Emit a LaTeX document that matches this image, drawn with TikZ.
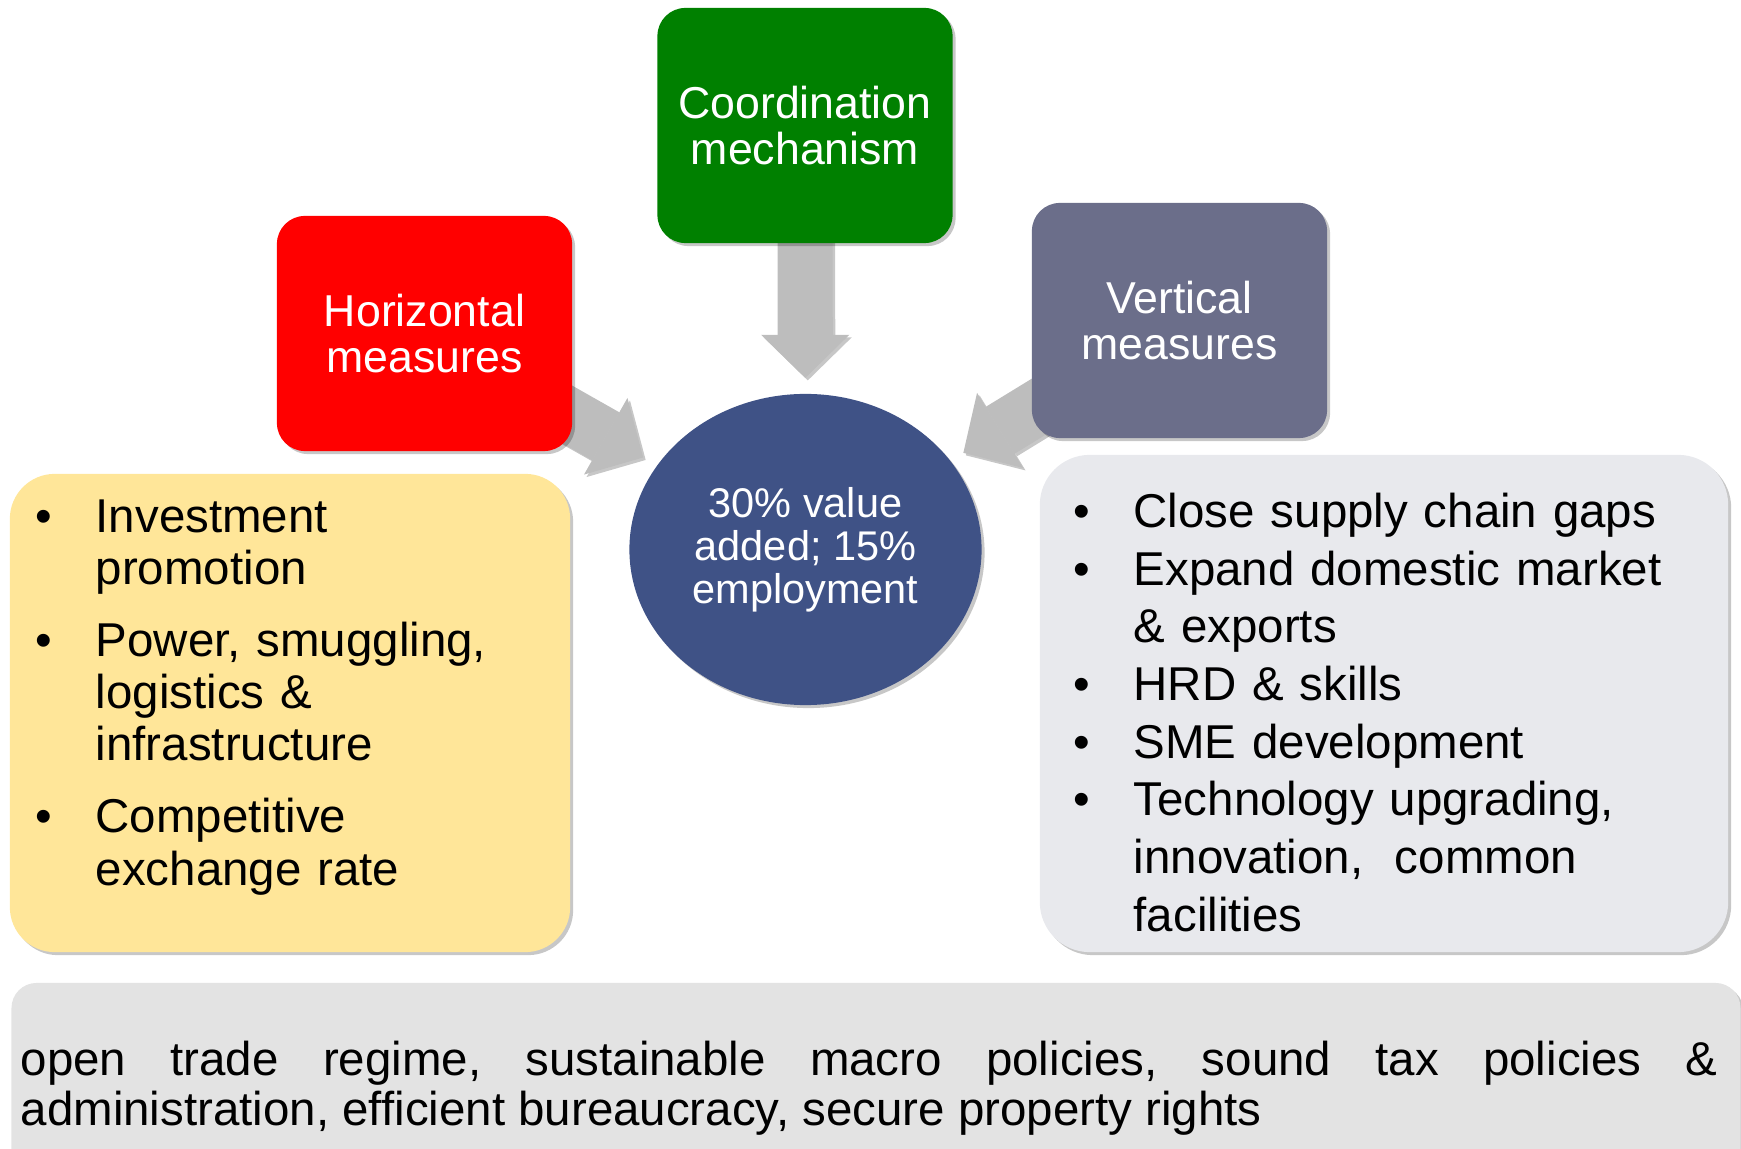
\documentclass[tikz,border=0pt]{standalone}
\usepackage{fontspec}
\setmainfont{Liberation Sans}
\usetikzlibrary{arrows.meta,shapes.geometric,shadows,backgrounds}

\definecolor{coordgreen}{RGB}{0,128,0}
\definecolor{horizred}{RGB}{255,0,0}
\definecolor{vertslate}{RGB}{107,110,138}
\definecolor{coreblue}{RGB}{63,82,134}
\definecolor{listyellow}{RGB}{255,230,153}
\definecolor{listgrey}{RGB}{232,233,237}
\definecolor{basegrey}{RGB}{227,227,227}
\definecolor{arrowgrey}{RGB}{189,189,189}

\hyphenpenalty=10000
\exhyphenpenalty=10000
\tolerance=10000

\newlength{\bulletind}
\setlength{\bulletind}{0.6cm}
\def\pitem#1{\par\hangindent=\bulletind\hangafter=1\noindent\makebox[\bulletind][l]{\textbullet}#1}
\def\pgap{\par\vspace{0.2cm}}
\def\widespaces{\frenchspacing\spaceskip=0.278em plus 1em\relax}

\tikzset{
	softshadow/.style={drop shadow={shadow xshift=0.03cm, shadow yshift=-0.03cm, fill=black, opacity=0.22}},
	titlebox/.style={rectangle, rounded corners=0.28cm, minimum width=2.95cm, minimum height=2.35cm, inner sep=0pt, text=white, align=center, font=\fontsize{12.7}{13.1}\selectfont, softshadow},
	core/.style={ellipse, fill=coreblue, minimum width=3.52cm, minimum height=3.11cm, inner sep=0pt, text=white, align=center, font=\fontsize{11.8}{12.2}\selectfont, softshadow},
	listbox/.style={rectangle, rounded corners=0.45cm, inner sep=0pt, softshadow},
	listtext/.style={anchor=north west, inner sep=0pt, align=left, font=\fontsize{13.5}{14.8}\selectfont},
	blockarrow/.style={draw=arrowgrey, line width=0.55cm, -{Triangle[length=0.43cm, width=0.88cm, line width=0pt]}},
	arrowshade/.style={blockarrow, draw=black!22, transform canvas={xshift=0.025cm, yshift=-0.025cm}}
}

\begin{document}
\begin{tikzpicture}[x=0.01cm, y=-0.01cm]
		%%%%% START %%%%%
		\useasboundingbox (0,0) rectangle (1741,1149);
		
		\node[titlebox, fill=coordgreen] (coord) at (805,125.5) {Coordination\\mechanism};
		\node[titlebox, fill=horizred] (horiz) at (424.5,333.5) {Horizontal\\measures};
		\node[titlebox, fill=vertslate] (vert) at (1179.5,320.5) {Vertical\\measures};
		
		\node[core] (core) at (805.5,549.5) {30\% value\\added; 15\%\\employment};
		
		\node[listbox, fill=listyellow, minimum width=5.6cm, minimum height=4.78cm] (hbox) at (290,713) {};
		\node[listtext, text width=4.8cm] (hlist) at (35,480) {\pitem{Investment promotion}\pgap
			\pitem{Power, smuggling, logistics \& infrastructure}\pgap
			\pitem{Competitive exchange rate}\par};
		
		\node[listbox, rounded corners=0.5cm, fill=listgrey, minimum width=6.88cm, minimum height=4.97cm] (vbox) at (1384,703.5) {};
		\node[listtext, text width=6.05cm, font=\fontsize{13.5}{16.4}\selectfont] (vlist) at (1073,469) {\pitem{Close supply chain gaps}
			\pitem{Expand domestic market \& exports}
			\pitem{HRD \& skills}
			\pitem{SME development}
			\pitem{Technology upgrading, innovation,~ common facilities}\par};
		
		\node[listbox, rounded corners=0.25cm, fill=basegrey, minimum width=17.28cm, minimum height=1.97cm] (basebox) at (876,1081.5) {};
		\node[anchor=north west, inner sep=0pt, text width=16.96cm, align=justify, font=\fontsize{13.5}{14.2}\selectfont] (basetext) at (20,1040.5) {\widespaces open trade regime, sustainable macro policies, sound tax policies \& administration, efficient bureaucracy, secure property rights\par};
		
		\begin{scope}[on background layer]
			\draw[arrowshade, shorten >=1.715cm] (coord.center) -- (core.center);
			\draw[arrowshade, shorten >=1.865cm] (horiz.center) -- (core.center);
			\draw[arrowshade, shorten >=1.85cm] (vert.center) -- (core.center);
			
			\draw[blockarrow, shorten >=1.715cm] (coord.center) -- (core.center);
			\draw[blockarrow, shorten >=1.865cm] (horiz.center) -- (core.center);
			\draw[blockarrow, shorten >=1.85cm] (vert.center) -- (core.center);
		\end{scope}
		%%%%% END %%%%%
\end{tikzpicture}
\end{document}
